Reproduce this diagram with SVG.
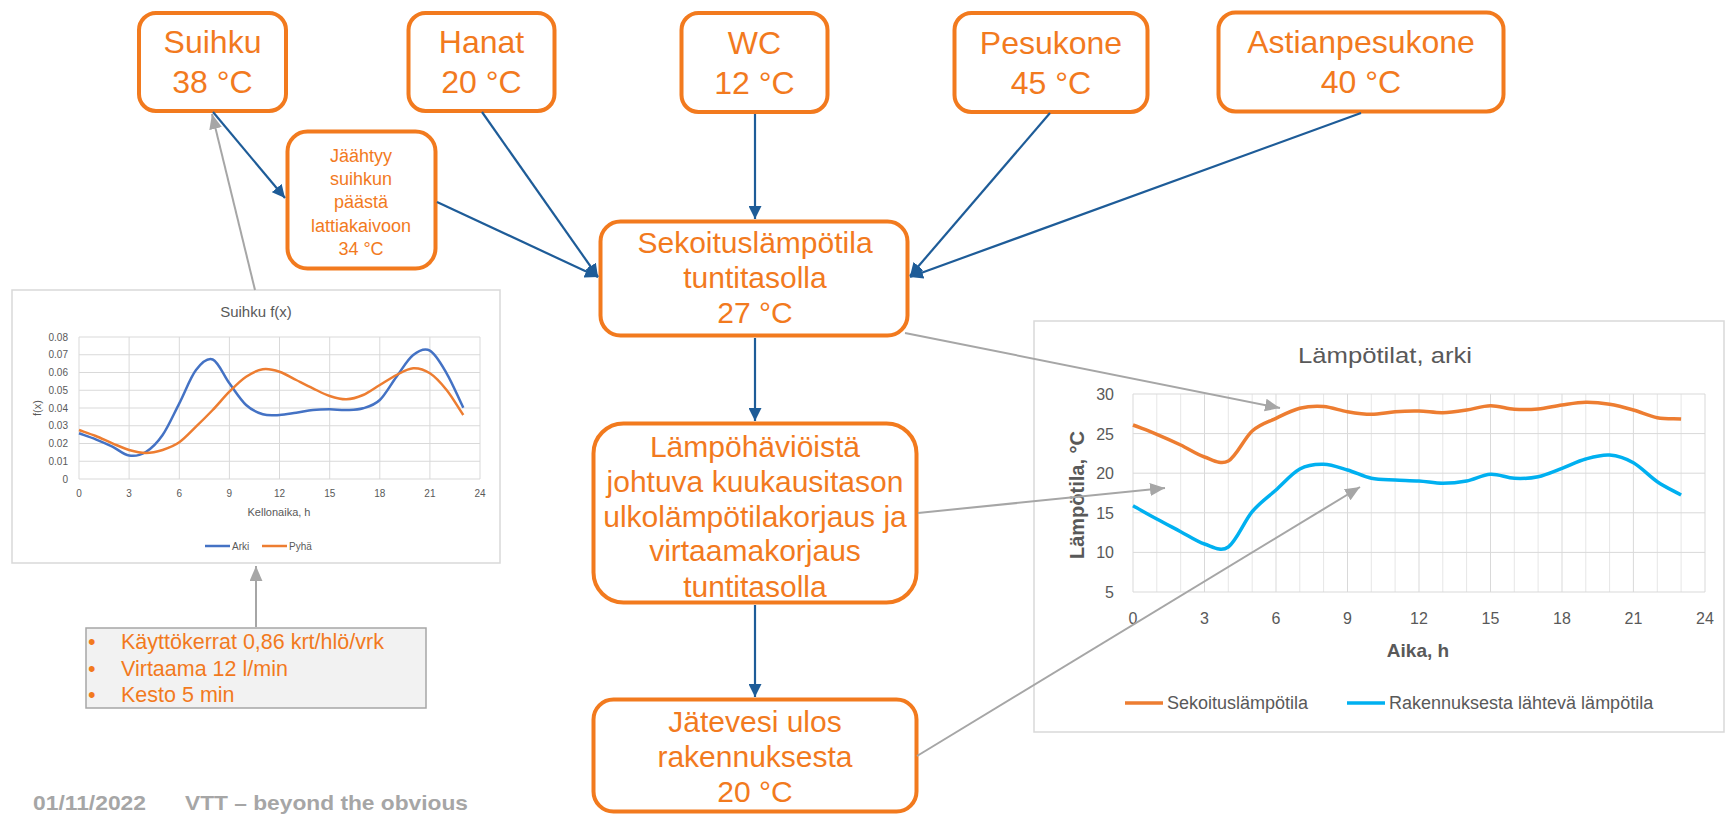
<svg xmlns="http://www.w3.org/2000/svg" width="1725" height="816" viewBox="0 0 1725 816">
<style>
.box{fill:#fff;stroke:#F27A1E;stroke-width:4}
.t{font-family:"Liberation Sans",Arial,sans-serif;fill:#F27A1E;text-anchor:middle}
.big{font-size:32px}
.mid{font-size:30px}
.sm{font-size:18px}
.blue{stroke:#1E5C98;stroke-width:2.2;fill:none}
.gray{stroke:#A6A6A6;stroke-width:2;fill:none}
.ct{font-family:"Liberation Sans",Arial,sans-serif;fill:#595959}
.grid{stroke:#D9D9D9;stroke-width:1}
.gridl{stroke:#E6E6E6;stroke-width:1}
</style>
<defs>
<marker id="ab" viewBox="0 0 12 12" refX="12" refY="6" markerWidth="13" markerHeight="13" markerUnits="userSpaceOnUse" orient="auto"><path d="M0,0 L12,6 L0,12 z" fill="#1E5C98"/></marker>
<marker id="ag" viewBox="0 0 14 12" refX="14" refY="6" markerWidth="15" markerHeight="13" markerUnits="userSpaceOnUse" orient="auto"><path d="M0,0 L14,6 L0,12 z" fill="#A6A6A6"/></marker>
</defs>
<rect width="1725" height="816" fill="#fff"/>

<g id="chart-suihku">
<rect x="12" y="290" width="488" height="273" fill="#fff" stroke="#D9D9D9" stroke-width="1.5"/>
<text class="ct" x="256" y="317" font-size="15" text-anchor="middle">Suihku f(x)</text>
<g class="grid">
<line x1="79" y1="479" x2="480" y2="479"/><line x1="79" y1="461.25" x2="480" y2="461.25"/><line x1="79" y1="443.5" x2="480" y2="443.5"/><line x1="79" y1="425.75" x2="480" y2="425.75"/><line x1="79" y1="408" x2="480" y2="408"/><line x1="79" y1="390.25" x2="480" y2="390.25"/><line x1="79" y1="372.5" x2="480" y2="372.5"/><line x1="79" y1="354.75" x2="480" y2="354.75"/><line x1="79" y1="337" x2="480" y2="337"/>
<line x1="79" y1="337" x2="79" y2="479"/><line x1="129.1" y1="337" x2="129.1" y2="479"/><line x1="179.3" y1="337" x2="179.3" y2="479"/><line x1="229.4" y1="337" x2="229.4" y2="479"/><line x1="279.5" y1="337" x2="279.5" y2="479"/><line x1="329.7" y1="337" x2="329.7" y2="479"/><line x1="379.8" y1="337" x2="379.8" y2="479"/><line x1="429.9" y1="337" x2="429.9" y2="479"/><line x1="480" y1="337" x2="480" y2="479"/>
</g>
<g class="ct" font-size="10" text-anchor="end">
<text x="68" y="482.5">0</text><text x="68" y="464.7">0.01</text><text x="68" y="447">0.02</text><text x="68" y="429.2">0.03</text><text x="68" y="411.5">0.04</text><text x="68" y="393.7">0.05</text><text x="68" y="376">0.06</text><text x="68" y="358.2">0.07</text><text x="68" y="340.5">0.08</text>
</g>
<g class="ct" font-size="10" text-anchor="middle">
<text x="79" y="497">0</text><text x="129.1" y="497">3</text><text x="179.3" y="497">6</text><text x="229.4" y="497">9</text><text x="279.5" y="497">12</text><text x="329.7" y="497">15</text><text x="379.8" y="497">18</text><text x="429.9" y="497">21</text><text x="480" y="497">24</text>
</g>
<text class="ct" font-size="11" text-anchor="middle" x="279" y="516">Kellonaika, h</text>
<text class="ct" font-size="11" text-anchor="middle" transform="translate(41,408) rotate(-90)">f(x)</text>
<path fill="none" stroke="#4472C4" stroke-width="2.5" d="M79,433.3 C84.6,435.3 90.1,437.1 95.7,439.3 S106.8,444.0 112.4,446.7 S123.5,454.6 129.1,455.5 S140.2,455.4 145.8,452 S157.0,443.1 162.6,435 S173.7,414.1 179.3,403.3 S190.4,377.3 196,370 S207.1,357.3 212.7,359.5 S223.8,375.7 229.4,383.3 S240.5,399.8 246.1,405 S257.2,412.6 262.8,414.3 S273.9,415.3 279.5,415 S290.6,413.5 296.2,412.7 S307.3,410.6 312.9,410 S324.1,409.3 329.7,409.3 S340.8,410.2 346.4,410 S357.5,410.0 363.1,408.3 S374.2,405.3 379.8,400 S390.9,384.2 396.5,376.7 S407.6,359.3 413.2,355 S424.3,347.65 429.9,350.7 S441.0,363.8 446.6,373.3 S457.7,396.2 463.3,407.7"/>
<path fill="none" stroke="#ED7D31" stroke-width="2.5" d="M79,430 C84.6,432 90.1,433.8 95.7,436 S106.8,441.0 112.4,443.3 S123.5,448.4 129.1,450 S140.2,453 145.8,453 S157.0,451.8 162.6,450 S173.7,446.2 179.3,442.3 S190.4,432.1 196,426.7 S207.1,415.8 212.7,410 S223.8,397.25 229.4,391.7 S240.5,380.4 246.1,376.7 S257.2,370.1 262.8,369.3 S273.9,369.9 279.5,371.7 S290.6,377.2 296.2,380 S307.3,385.6 312.9,388.3 S324.1,394.2 329.7,396 S340.8,399.5 346.4,399.3 S357.5,397.4 363.1,395 S374.2,388.3 379.8,385 S390.9,377.8 396.5,375 S407.6,368.6 413.2,368.3 S424.3,369.7 429.9,373.3 S441.0,383.05 446.6,390 S457.7,406.7 463.3,415"/>
<line x1="205" y1="546" x2="230" y2="546" stroke="#4472C4" stroke-width="2.5"/>
<text class="ct" font-size="10" x="232" y="549.5">Arki</text>
<line x1="262" y1="546" x2="287" y2="546" stroke="#ED7D31" stroke-width="2.5"/>
<text class="ct" font-size="10" x="289" y="549.5">Pyhä</text>
</g>

<g id="chart-lampotilat">
<rect x="1034" y="321" width="690" height="411" fill="#fff" stroke="#D9D9D9" stroke-width="1.5"/>
<text class="ct" x="1385" y="363" font-size="22" text-anchor="middle" textLength="174" lengthAdjust="spacingAndGlyphs">Lämpötilat, arki</text>
<g class="gridl">
<line x1="1156.8" y1="394" x2="1156.8" y2="592"/><line x1="1180.7" y1="394" x2="1180.7" y2="592"/><line x1="1228.3" y1="394" x2="1228.3" y2="592"/><line x1="1252.2" y1="394" x2="1252.2" y2="592"/><line x1="1299.8" y1="394" x2="1299.8" y2="592"/><line x1="1323.6" y1="394" x2="1323.6" y2="592"/><line x1="1371.3" y1="394" x2="1371.3" y2="592"/><line x1="1395.1" y1="394" x2="1395.1" y2="592"/><line x1="1442.8" y1="394" x2="1442.8" y2="592"/><line x1="1466.6" y1="394" x2="1466.6" y2="592"/><line x1="1514.3" y1="394" x2="1514.3" y2="592"/><line x1="1538.1" y1="394" x2="1538.1" y2="592"/><line x1="1585.8" y1="394" x2="1585.8" y2="592"/><line x1="1609.6" y1="394" x2="1609.6" y2="592"/><line x1="1657.3" y1="394" x2="1657.3" y2="592"/><line x1="1681.1" y1="394" x2="1681.1" y2="592"/>
</g>
<g class="grid">
<line x1="1133" y1="394" x2="1705" y2="394"/><line x1="1133" y1="433.6" x2="1705" y2="433.6"/><line x1="1133" y1="473.2" x2="1705" y2="473.2"/><line x1="1133" y1="512.8" x2="1705" y2="512.8"/><line x1="1133" y1="552.4" x2="1705" y2="552.4"/><line x1="1133" y1="592" x2="1705" y2="592"/>
<line x1="1133" y1="394" x2="1133" y2="592"/><line x1="1204.5" y1="394" x2="1204.5" y2="592"/><line x1="1276" y1="394" x2="1276" y2="592"/><line x1="1347.5" y1="394" x2="1347.5" y2="592"/><line x1="1419" y1="394" x2="1419" y2="592"/><line x1="1490.5" y1="394" x2="1490.5" y2="592"/><line x1="1562" y1="394" x2="1562" y2="592"/><line x1="1633.4" y1="394" x2="1633.4" y2="592"/><line x1="1705" y1="394" x2="1705" y2="592"/>
</g>
<g class="ct" font-size="16" text-anchor="end">
<text x="1114" y="400">30</text><text x="1114" y="439.6">25</text><text x="1114" y="479.2">20</text><text x="1114" y="518.8">15</text><text x="1114" y="558.4">10</text><text x="1114" y="598">5</text>
</g>
<g class="ct" font-size="16" text-anchor="middle">
<text x="1133" y="624">0</text><text x="1204.5" y="624">3</text><text x="1276" y="624">6</text><text x="1347.5" y="624">9</text><text x="1419" y="624">12</text><text x="1490.5" y="624">15</text><text x="1562" y="624">18</text><text x="1633.4" y="624">21</text><text x="1705" y="624">24</text>
</g>
<text class="ct" font-size="19" font-weight="bold" text-anchor="middle" x="1418" y="657">Aika, h</text>
<text class="ct" font-size="20" font-weight="bold" text-anchor="middle" transform="translate(1084,495) rotate(-90)">Lämpötila, °C</text>
<path fill="none" stroke="#ED7D31" stroke-width="3.5" d="M1133,425 C1140.9,428.1 1148.9,431.0 1156.8,434.3 S1172.8,441.2 1180.7,445 S1196.6,454.3 1204.5,457 S1220.4,465.3 1228.3,461 S1244.3,438.1 1252.2,431 S1268.1,422.1 1276,418.3 S1291.9,410.3 1299.8,408.3 S1315.7,405.9 1323.6,406.5 S1339.6,410.4 1347.5,411.7 S1363.4,414.3 1371.3,414.3 S1387.2,412.3 1395.1,411.7 S1411.1,410.8 1419,411 S1434.9,412.9 1442.8,412.7 S1458.7,411.2 1466.6,410 S1482.6,405.8 1490.5,405.7 S1506.4,408.8 1514.3,409.3 S1530.2,409.7 1538.1,409 S1554.1,406.1 1562,405 S1577.9,402.4 1585.8,402.3 S1601.7,403.0 1609.6,404.3 S1625.5,407.8 1633.4,410 S1649.4,416.2 1657.3,417.7 S1673.2,418.6 1681.1,419"/>
<path fill="none" stroke="#00B0F0" stroke-width="3.5" d="M1133,505.7 C1140.9,510.1 1148.9,514.7 1156.8,519 S1172.8,527.5 1180.7,531.7 S1196.6,541.5 1204.5,544 S1220.4,552.4 1228.3,547 S1244.3,521.2 1252.2,511.7 S1268.1,497.1 1276,490 S1291.9,473.3 1299.8,469 S1315.7,464.1 1323.6,464.3 S1339.6,467.7 1347.5,470 S1363.4,476.6 1371.3,478.3 S1387.2,479.6 1395.1,480 S1411.1,480.5 1419,481 S1434.9,483.3 1442.8,483.3 S1458.7,482.5 1466.6,481 S1482.6,474.75 1490.5,474.3 S1506.4,477.9 1514.3,478.3 S1530.2,478.4 1538.1,476.7 S1554.1,471.25 1562,468.3 S1577.9,461.2 1585.8,459 S1601.7,454.4 1609.6,455 S1625.5,458.25 1633.4,462.7 S1649.4,476.3 1657.3,481.7 S1673.2,490.6 1681.1,495"/>
<line x1="1125" y1="703" x2="1163" y2="703" stroke="#ED7D31" stroke-width="3.5"/>
<text class="ct" font-size="18" x="1167" y="709">Sekoituslämpötila</text>
<line x1="1347" y1="703" x2="1385" y2="703" stroke="#00B0F0" stroke-width="3.5"/>
<text class="ct" font-size="18" x="1389" y="709">Rakennuksesta lähtevä lämpötila</text>
</g>

<g id="node-suihku">
<rect class="box" x="139" y="13" width="147" height="98" rx="17"/>
<text class="t big" x="212.5" y="53">Suihku</text>
<text class="t big" x="212.5" y="93">38 °C</text>
</g>
<g id="node-hanat">
<rect class="box" x="408.5" y="13" width="146" height="98" rx="17"/>
<text class="t big" x="481.5" y="53">Hanat</text>
<text class="t big" x="481.5" y="93">20 °C</text>
</g>
<g id="node-wc">
<rect class="box" x="681.5" y="13" width="146" height="99" rx="17"/>
<text class="t big" x="754.5" y="54">WC</text>
<text class="t big" x="754.5" y="94">12 °C</text>
</g>
<g id="node-pesukone">
<rect class="box" x="954.5" y="13" width="193" height="99" rx="17"/>
<text class="t big" x="1051" y="54">Pesukone</text>
<text class="t big" x="1051" y="94">45 °C</text>
</g>
<g id="node-astianpesukone">
<rect class="box" x="1218.5" y="12.5" width="285" height="99" rx="17"/>
<text class="t big" x="1361" y="53">Astianpesukone</text>
<text class="t big" x="1361" y="93">40 °C</text>
</g>
<g id="node-jaahtyy">
<rect class="box" x="287.5" y="131.5" width="148" height="137" rx="20"/>
<text class="t sm" x="361" y="162">Jäähtyy</text>
<text class="t sm" x="361" y="185">suihkun</text>
<text class="t sm" x="361" y="208">päästä</text>
<text class="t sm" x="361" y="232">lattiakaivoon</text>
<text class="t sm" x="361" y="255">34 °C</text>
</g>
<g id="node-sekoitus">
<rect class="box" x="600.5" y="221.5" width="307" height="114" rx="20"/>
<text class="t mid" x="755" y="253">Sekoituslämpötila</text>
<text class="t mid" x="755" y="288">tuntitasolla</text>
<text class="t mid" x="755" y="323">27 °C</text>
</g>
<g id="node-lampohavio">
<rect class="box" x="593.5" y="423.5" width="323" height="179" rx="30"/>
<text class="t mid" x="755" y="457">Lämpöhäviöistä</text>
<text class="t mid" x="755" y="492">johtuva kuukausitason</text>
<text class="t mid" x="755" y="527">ulkolämpötilakorjaus ja</text>
<text class="t mid" x="755" y="561">virtaamakorjaus</text>
<text class="t mid" x="755" y="597">tuntitasolla</text>
</g>
<g id="node-jatevesi">
<rect class="box" x="593.5" y="699.5" width="323" height="112" rx="20"/>
<text class="t mid" x="755" y="732">Jätevesi ulos</text>
<text class="t mid" x="755" y="767">rakennuksesta</text>
<text class="t mid" x="755" y="802">20 °C</text>
</g>
<g id="node-info">
<rect x="86" y="628" width="340" height="80" fill="#F2F2F2" stroke="#A6A6A6" stroke-width="1.5"/>
<g font-family="'Liberation Sans',Arial,sans-serif" font-size="21.5" fill="#F27A1E">
<text x="88" y="649">•</text><text x="121" y="649">Käyttökerrat 0,86 krt/hlö/vrk</text>
<text x="88" y="676">•</text><text x="121" y="676">Virtaama 12 l/min</text>
<text x="88" y="702">•</text><text x="121" y="702">Kesto 5 min</text>
</g>
</g>

<g id="connectors">
<line class="blue" x1="213" y1="112" x2="285" y2="198" marker-end="url(#ab)"/>
<line class="blue" x1="437" y1="202" x2="598" y2="277" marker-end="url(#ab)"/>
<line class="blue" x1="482" y1="112" x2="598" y2="277" marker-end="url(#ab)"/>
<line class="blue" x1="755" y1="114" x2="755" y2="219" marker-end="url(#ab)"/>
<line class="blue" x1="1050" y1="113" x2="910" y2="276" marker-end="url(#ab)"/>
<line class="blue" x1="1361" y1="113" x2="910" y2="277" marker-end="url(#ab)"/>
<line class="blue" x1="755" y1="338" x2="755" y2="421" marker-end="url(#ab)"/>
<line class="blue" x1="755" y1="605" x2="755" y2="697" marker-end="url(#ab)"/>
<line class="gray" x1="905" y1="333" x2="1280" y2="408" marker-end="url(#ag)"/>
<line class="gray" x1="918" y1="513" x2="1165" y2="488" marker-end="url(#ag)"/>
<line class="gray" x1="917" y1="756" x2="1360" y2="487" marker-end="url(#ag)"/>
<line class="gray" x1="255" y1="290" x2="212" y2="114" marker-end="url(#ag)"/>
<line class="gray" x1="256" y1="627" x2="256" y2="566" marker-end="url(#ag)"/>
</g>

<g id="footer" font-family="'Liberation Sans',Arial,sans-serif" font-size="21" font-weight="bold" fill="#A6A6A6">
<text x="33" y="810" textLength="113" lengthAdjust="spacingAndGlyphs">01/11/2022</text>
<text x="185" y="810" textLength="283" lengthAdjust="spacingAndGlyphs">VTT – beyond the obvious</text>
</g>
</svg>
